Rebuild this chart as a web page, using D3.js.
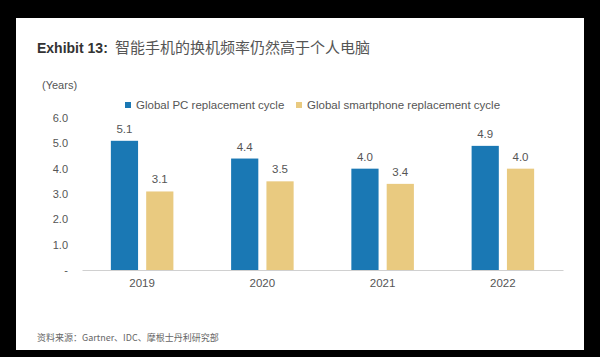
<!DOCTYPE html>
<html><head><meta charset="utf-8">
<script src="https://cdn.jsdelivr.net/npm/d3@7/dist/d3.min.js"></script>
<style>body{margin:0;background:#000;}svg{display:block;}</style>
</head><body>
<svg id="c" width="600" height="357"></svg>
<script>
const categories = ["2019", "2020", "2021", "2022"];
const seriesNames = ["Global PC replacement cycle", "Global smartphone replacement cycle"];
const pcValues = [5.1, 4.4, 4.0, 4.9];
const phoneValues = [3.1, 3.5, 3.4, 4.0];
const yTicks = [0, 1, 2, 3, 4, 5, 6];
const colors = ["#1a78b4", "#e9ca80"];

const svg = d3.select("#c");
svg.append("rect").attr("x", 0).attr("y", 0).attr("width", 600).attr("height", 357).attr("fill", "#000");
svg.append("rect").attr("x", 16).attr("y", 18).attr("width", 568).attr("height", 332).attr("fill", "#fff");

const font = "Liberation Sans, Arial, Noto Sans CJK SC, sans-serif";

// Title
const t = svg.append("text").attr("x", 37).attr("y", 53).attr("font-family", font);
t.append("tspan").attr("font-weight", "bold").attr("font-size", 14).attr("fill", "#333").text("Exhibit 13:");
t.append("tspan").attr("x", 115).attr("font-size", 15).attr("fill", "#555")
  .attr("font-family", "Noto Sans CJK SC, sans-serif").text("智能手机的换机频率仍然高于个人电脑");

svg.append("text").attr("x", 42).attr("y", 89).attr("font-family", font).attr("font-size", 11)
  .attr("fill", "#555").text("(Years)");

// Legend
const legend = svg.append("g");
const legX = [125, 296];
seriesNames.forEach((n, i) => {
  legend.append("rect").attr("x", legX[i]).attr("y", 102).attr("width", 6).attr("height", 6).attr("fill", colors[i]);
  legend.append("text").attr("x", legX[i] + 11).attr("y", 109).attr("font-family", font).attr("font-size", 11.5)
    .attr("fill", "#555").text(n);
});

const x0 = d3.scaleBand().domain(categories).range([82, 563]).paddingInner(0.48).paddingOuter(0.24);
const x1 = d3.scaleBand().domain([0, 1]).range([0, x0.bandwidth()]).paddingInner(0.23);
const y = d3.scaleLinear().domain([0, 6]).range([270, 118]);

// y axis labels
const yAxis = d3.axisLeft(y).tickValues(yTicks).tickSize(0).tickPadding(0)
  .tickFormat(d => d === 0 ? "-" : d3.format(".1f")(d));
const ya = svg.append("g").attr("transform", "translate(68,0)").call(yAxis);
ya.select(".domain").remove();
ya.selectAll("text").attr("font-family", font).attr("font-size", 11).attr("fill", "#555");

// bars
const data = [pcValues, phoneValues];
data.forEach((vals, s) => {
  svg.append("g").selectAll("rect").data(vals).join("rect")
    .attr("x", (d, i) => x0(categories[i]) + x1(s))
    .attr("y", d => y(d))
    .attr("width", x1.bandwidth())
    .attr("height", d => y(0) - y(d))
    .attr("fill", colors[s]);
  svg.append("g").selectAll("text").data(vals).join("text")
    .attr("x", (d, i) => x0(categories[i]) + x1(s) + x1.bandwidth() / 2)
    .attr("y", d => y(d) - 8)
    .attr("text-anchor", "middle").attr("font-family", font).attr("font-size", 11.5).attr("fill", "#555")
    .text(d => d3.format(".1f")(d));
});

// x axis
const xScaleFull = d3.scaleBand().domain(categories).range([82, 563]);
const xa = svg.append("g").attr("transform", "translate(0,270)")
  .call(d3.axisBottom(xScaleFull).tickSize(0).tickPadding(9).tickSizeOuter(0));
xa.select(".domain").attr("stroke", "#d0d0d0").attr("stroke-width", 1);
xa.selectAll("text").attr("font-family", font).attr("font-size", 11.5).attr("fill", "#555");

// source
svg.append("text").attr("x", 37).attr("y", 341).attr("font-family", "Noto Sans CJK SC, sans-serif")
  .attr("font-size", 9).attr("fill", "#666").text("资料来源：Gartner、IDC、摩根士丹利研究部");
</script>
</body></html>
